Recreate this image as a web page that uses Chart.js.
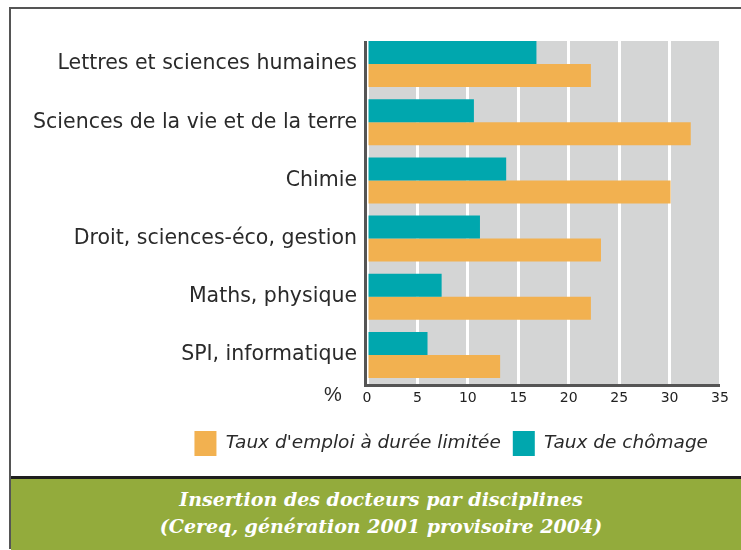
<!DOCTYPE html>
<html>
<head>
<meta charset="utf-8">
<script src="https://cdn.jsdelivr.net/npm/chart.js@4/dist/chart.umd.min.js"></script>
<style>
  html, body { margin: 0; padding: 0; background: #fff; }
  #page { position: relative; width: 741px; height: 550px; overflow: hidden; background: #fff; }
  #frame { position: absolute; left: 9px; top: 7px; width: 760px; height: 540px; border-left: 2px solid #555; border-top: 2px solid #555; }
  #banner { position: absolute; left: 11px; top: 476px; width: 740px; height: 80px; background: #93ab3c; border-top: 3px solid #1e1e1e; }
  #banner p { margin: 0; color: #fff; font-family: "DejaVu Serif", "Liberation Serif", serif; font-weight: bold; font-style: italic; font-size: 19px; line-height: 27px; text-align: center; position: absolute; left: 0; width: 740px; top: 7px; }
  #wrap { position: absolute; left: 0; top: 0; width: 741px; height: 476px; }
</style>
</head>
<body>
<div id="page">
  <div id="frame"></div>
  <div id="banner"><p>Insertion des docteurs par disciplines<br>(Cereq, génération 2001 provisoire 2004)</p></div>
  <div id="wrap"><canvas id="insertionChart"></canvas></div>
</div>
<script>
const disciplines = [
  'Lettres et sciences humaines',
  'Sciences de la vie et de la terre',
  'Chimie',
  'Droit, sciences-éco, gestion',
  'Maths, physique',
  'SPI, informatique'
];
const chomage = [16.8, 10.6, 13.8, 11.2, 7.4, 6.0];
const emploiLimite = [22.2, 32.1, 30.1, 23.2, 22.2, 13.2];
const xTicks = [0, 5, 10, 15, 20, 25, 30, 35];

const colours = { chomage: '#00a7ae', emploi: '#f2b150', plot: '#d4d5d5', axis: '#555555', label: '#2a2a2a' };

// gray panel behind the bars, plus the "%" sign next to the 0 tick
const panel = {
  id: 'panel',
  beforeDraw(chart) {
    const { ctx, chartArea } = chart;
    ctx.save();
    ctx.fillStyle = colours.plot;
    ctx.fillRect(chartArea.left, chartArea.top + 6, chartArea.right - chartArea.left, chartArea.bottom - chartArea.top - 6);
    ctx.restore();
  },
  afterDraw(chart) {
    const { ctx, chartArea } = chart;
    ctx.save();
    ctx.fillStyle = colours.label;
    ctx.font = '20px "Liberation Sans", sans-serif';
    ctx.textAlign = 'center';
    ctx.textBaseline = 'middle';
    ctx.fillText('%', chartArea.left - 34, chartArea.bottom + 11);
    // axis lines
    ctx.strokeStyle = colours.axis;
    ctx.lineWidth = 3;
    ctx.beginPath();
    ctx.moveTo(chartArea.left - 1.5, chartArea.top + 6);
    ctx.lineTo(chartArea.left - 1.5, chartArea.bottom + 1.5);
    ctx.lineTo(chartArea.right, chartArea.bottom + 1.5);
    ctx.stroke();
    ctx.restore();
  }
};

const ctx = document.getElementById('insertionChart').getContext('2d');
new Chart(ctx, {
  type: 'bar',
  data: {
    labels: disciplines,
    datasets: [
      { label: 'Taux de chômage', data: chomage, backgroundColor: colours.chomage },
      { label: "Taux d'emploi à durée limitée", data: emploiLimite, backgroundColor: colours.emploi }
    ]
  },
  options: {
    indexAxis: 'y',
    responsive: true,
    maintainAspectRatio: false,
    animation: false,
    layout: { padding: { left: 0, top: 35, right: 21, bottom: 10 } },
    datasets: { bar: { categoryPercentage: 0.79, barPercentage: 1.0 } },
    plugins: {
      tooltip: { enabled: false },
      legend: {
        position: 'bottom',
        align: 'end',
        reverse: true,
        labels: {
          boxWidth: 22,
          boxHeight: 25,
          padding: 12,
          color: colours.label,
          font: { family: '"DejaVu Sans", sans-serif', size: 18.5, style: 'italic' }
        }
      }
    },
    scales: {
      x: {
        min: 0,
        max: 35,
        afterBuildTicks: s => { s.ticks = xTicks.map(v => ({ value: v })); },
        afterFit: s => { s.height = 35; },
        border: { display: false },
        grid: { color: '#ffffff', lineWidth: 3, drawTicks: false, z: 0 },
        ticks: { color: '#222222', padding: 6, font: { family: '"DejaVu Sans", sans-serif', size: 14 } }
      },
      y: {
        afterFit: s => { s.width = 367; },
        border: { display: false },
        grid: { display: false, drawTicks: false },
        ticks: { color: colours.label, padding: 10, font: { family: '"DejaVu Sans", sans-serif', size: 20.5 } }
      }
    }
  },
  plugins: [panel]
});
</script>
</body>
</html>
